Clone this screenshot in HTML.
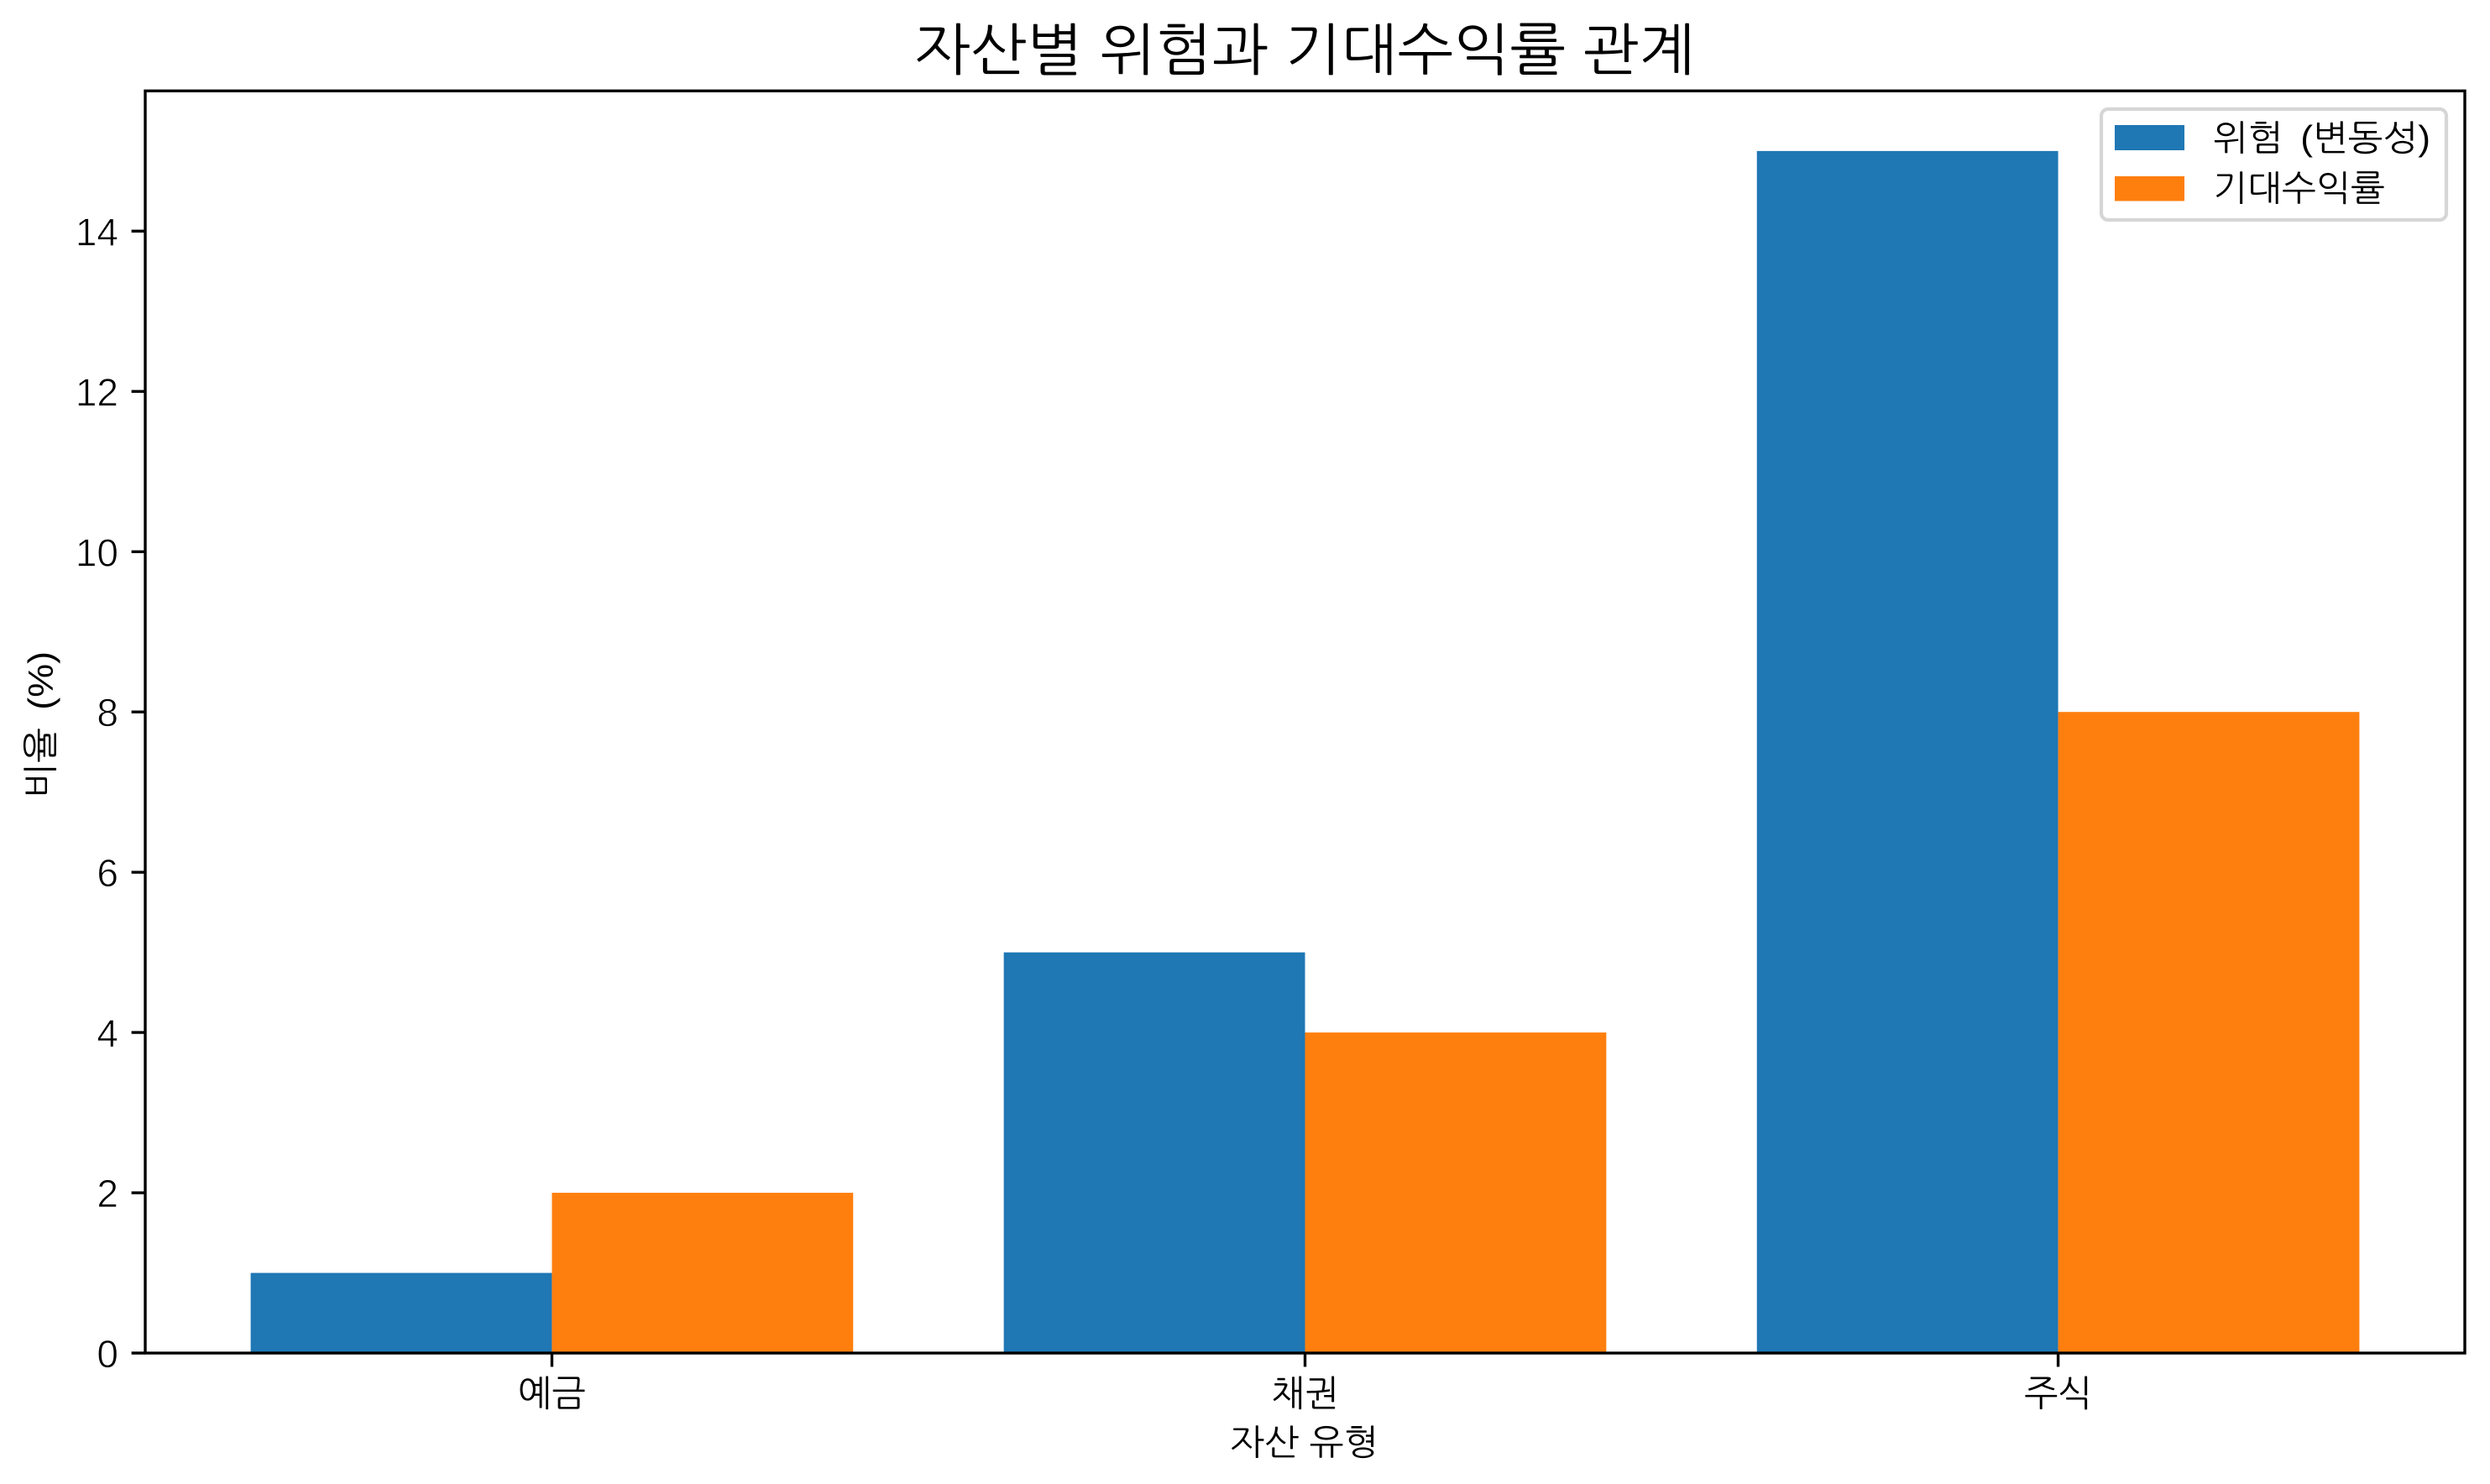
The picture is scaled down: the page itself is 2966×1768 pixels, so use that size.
<!DOCTYPE html>
<html lang="ko">
<head>
<meta charset="utf-8">
<title>자산별 위험과 기대수익률 관계</title>
<style>
html,body{margin:0;padding:0;background:#fff;}
svg{display:block;}
text{fill:#000;font-family:"Liberation Sans","NanumGothic","Noto Sans CJK KR",sans-serif;}
</style>
</head>
<body>
<svg id="chart" xmlns="http://www.w3.org/2000/svg" width="2966" height="1768" viewBox="0 0 2966 1768">
  <rect x="0" y="0" width="2966" height="1768" fill="#ffffff"/>
  <g id="bars"></g>
  <g id="ticks"></g>
  <rect x="173" y="108.3" width="2763" height="1503.7" fill="none" stroke="#000" stroke-width="3.4"/>
  <text x="1089" y="83" font-size="67" textLength="930" lengthAdjust="spacingAndGlyphs">자산별 위험과 기대수익률 관계</text>
  <text x="1465" y="1733" font-size="42" textLength="177" lengthAdjust="spacingAndGlyphs">자산 유형</text>
  <text transform="translate(63,951) rotate(-90)" x="0" y="0" font-size="42" word-spacing="8" textLength="175" lengthAdjust="spacingAndGlyphs">비율 (%)</text>
  <g>
    <rect x="2503" y="130" width="411" height="132" rx="8" ry="8" fill="#fff" fill-opacity="0.8" stroke="#cccccc" stroke-opacity="0.8" stroke-width="4.2"/>
    <rect x="2519" y="149" width="83" height="30" fill="#1f77b4"/>
    <text x="2636" y="179" font-size="42" word-spacing="8" textLength="259" lengthAdjust="spacingAndGlyphs">위험 (변동성)</text>
    <rect x="2519" y="210" width="83" height="29.5" fill="#ff7f0e"/>
    <text x="2636" y="239" font-size="42" textLength="205" lengthAdjust="spacingAndGlyphs">기대수익률</text>
  </g>
</svg>
<script>
const categories = ["예금", "채권", "주식"];
const riskValues = [1, 5, 15];
const returnValues = [2, 4, 8];
const yTickLabels = [0, 2, 4, 6, 8, 10, 12, 14];
const SVGNS = "http://www.w3.org/2000/svg";
const barWidth = 0.4;

function xScale(v) { return 173 + (v + 0.54) * (2763 / 3.08); }
function yScale(v) { return 1612 - v * (1503.7 / 15.75); }

function makeEl(tag, props, parent) {
  const el = document.createElementNS(SVGNS, tag);
  for (const key in props) { el.setAttribute(key, props[key]); }
  parent.appendChild(el);
  return el;
}

const barsGroup = document.getElementById("bars");
const ticksGroup = document.getElementById("ticks");

categories.forEach(function (cat, i) {
  const riskBar = makeEl("rect", {
    x: xScale(i - barWidth), y: yScale(riskValues[i]),
    width: xScale(i) - xScale(i - barWidth), height: yScale(0) - yScale(riskValues[i]),
    fill: "#1f77b4"
  }, barsGroup);
  
  

  const returnBar = makeEl("rect", {
    x: xScale(i), y: yScale(returnValues[i]),
    width: xScale(i + barWidth) - xScale(i), height: yScale(0) - yScale(returnValues[i]),
    fill: "#ff7f0e"
  }, barsGroup);
  
  

  const xTick = makeEl("line", {
    x1: xScale(i), x2: xScale(i), y1: 1612, y2: 1628.4, stroke: "#000", "stroke-width": 3.4
  }, ticksGroup);
  
  

  const xLabel = makeEl("text", {
    x: xScale(i), y: 1675, "font-size": 43, "text-anchor": "middle"
  }, ticksGroup);
  xLabel.textContent = cat;
  
  
});

yTickLabels.forEach(function (v) {
  const yTick = makeEl("line", {
    x1: 156.6, x2: 173, y1: yScale(v), y2: yScale(v), stroke: "#000", "stroke-width": 3.4
  }, ticksGroup);
  
  

  const yLabel = makeEl("text", {
    x: 141, y: yScale(v) + 17, "font-size": 46, "text-anchor": "end",
    stroke: "#fff", "stroke-width": 0.8
  }, ticksGroup);
  yLabel.textContent = String(v);
  
  
});
</script>
</body>
</html>
